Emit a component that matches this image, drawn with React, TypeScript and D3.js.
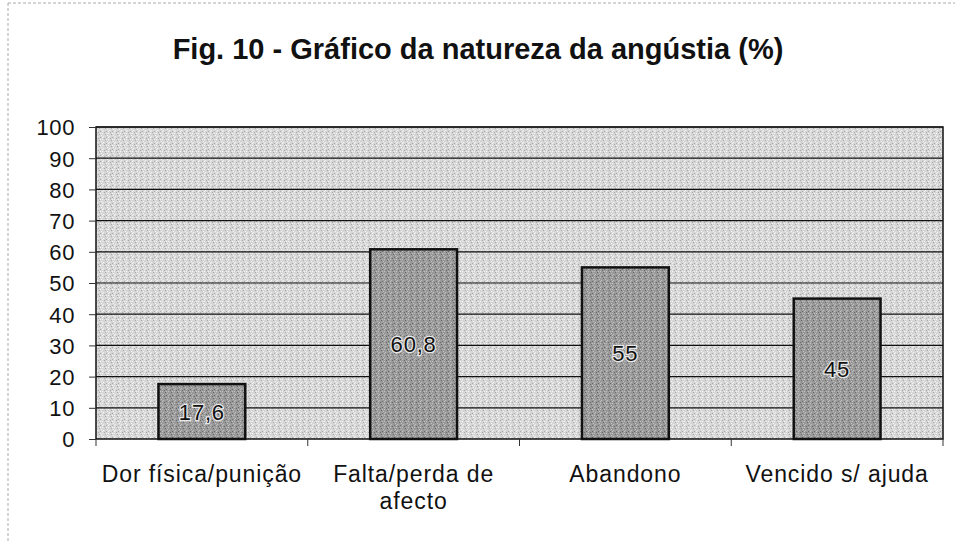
import React, { useEffect, useRef } from 'react';
import * as d3 from 'd3';

const categories = ['Dor física/punição', 'Falta/perda de\nafecto', 'Abandono', 'Vencido s/ ajuda'];
const values = [17.6, 60.8, 55, 45];
const valueLabels = ['17,6', '60,8', '55', '45'];
const yTicks = [0, 10, 20, 30, 40, 50, 60, 70, 80, 90, 100];

const W = 955;
const H = 541;
const margin = { top: 127, right: 12, bottom: 102, left: 96 };

export default function App() {
  const svgRef = useRef<SVGSVGElement>(null);

  useEffect(() => {
    if (!svgRef.current) return;
    const svg = d3.select(svgRef.current);
    svg.selectAll('*').remove();
    const font = "'Liberation Sans', Arial, sans-serif";

    // grainy textures, like the scanned print
    const defs = svg.append('defs');
    const grain = (id: string, base: string, light: string, dark: string) => {
      const p = defs.append('pattern').attr('id', id).attr('width', 6).attr('height', 6)
        .attr('patternUnits', 'userSpaceOnUse');
      p.append('rect').attr('width', 6).attr('height', 6).attr('fill', base);
      const dots = [[0, 0, light], [3, 1, dark], [1, 3, light], [4, 4, dark], [5, 2, light], [2, 5, dark], [0, 4, light], [4, 0, light]];
      dots.forEach(([x, y, c]) => p.append('rect').attr('x', x).attr('y', y).attr('width', 1).attr('height', 1).attr('fill', c as string));
    };
    grain('bgGrain', '#d6d6d6', '#f4f4f4', '#a8a8a8');
    grain('barGrain', '#999', '#c0c0c0', '#6a6a6a');

    // faint frame of the scanned page
    svg.append('line').attr('x1', 8).attr('x2', W).attr('y1', 3).attr('y2', 3)
      .attr('stroke', '#aaa').attr('stroke-dasharray', '3,2');
    svg.append('line').attr('x1', 8).attr('x2', 8).attr('y1', 3).attr('y2', H)
      .attr('stroke', '#aaa').attr('stroke-dasharray', '3,2');

    svg.append('text').attr('x', 478).attr('y', 59).attr('text-anchor', 'middle')
      .attr('font-family', font).attr('font-weight', 'bold').attr('font-size', 29)
      .attr('fill', '#111')
      .text('Fig. 10 - Gráfico da natureza da angústia (%)');

    const iw = W - margin.left - margin.right;
    const ih = H - margin.top - margin.bottom;
    const g = svg.append('g').attr('transform', `translate(${margin.left},${margin.top})`);

    const x = d3.scaleBand<number>().domain(d3.range(categories.length)).range([0, iw]).paddingInner(0.59).paddingOuter(0.295);
    const band = d3.scaleBand<number>().domain(d3.range(categories.length)).range([0, iw]);
    const y = d3.scaleLinear().domain([0, 100]).range([ih, 0]);

    g.append('rect').attr('width', iw).attr('height', ih).attr('fill', 'url(#bgGrain)');

    g.selectAll('line.grid').data(yTicks.filter(t => t > 0)).enter().append('line')
      .attr('class', 'grid').attr('x1', 0).attr('x2', iw)
      .attr('y1', d => y(d)).attr('y2', d => y(d))
      .attr('stroke', '#111').attr('stroke-width', 1.2);

    g.append('rect').attr('width', iw).attr('height', ih).attr('fill', 'none')
      .attr('stroke', '#111').attr('stroke-width', 1.5);

    g.selectAll('rect.bar').data(values).enter().append('rect')
      .attr('class', 'bar')
      .attr('x', (_, i) => x(i)!)
      .attr('width', x.bandwidth())
      .attr('y', d => y(d))
      .attr('height', d => ih - y(d))
      .attr('fill', 'url(#barGrain)')
      .attr('stroke', '#111').attr('stroke-width', 2.5);

    g.selectAll('text.val').data(values).enter().append('text')
      .attr('class', 'val')
      .attr('x', (_, i) => x(i)! + x.bandwidth() / 2)
      .attr('y', d => (y(d) + ih) / 2 + 8)
      .attr('text-anchor', 'middle')
      .attr('font-family', font).attr('font-size', 22).attr('letter-spacing', 0.8)
      .attr('fill', '#111').attr('stroke', '#e8e8e8').attr('stroke-width', 2.5)
      .attr('paint-order', 'stroke')
      .text((_, i) => valueLabels[i]);

    // y axis
    const yAxis = d3.axisLeft(y).tickValues(yTicks).tickSize(7).tickPadding(14);
    const ya = g.append('g').call(yAxis);
    ya.select('.domain').remove();
    ya.selectAll('line').attr('stroke', '#333');
    ya.selectAll('text').attr('font-family', font).attr('font-size', 22).attr('letter-spacing', 0.6)
      .attr('fill', '#111').attr('dy', '0.36em');

    // x axis: ticks at category boundaries
    const bounds = d3.range(categories.length + 1).map(i => (i < categories.length ? band(i)! : iw));
    g.selectAll('line.xt').data(bounds).enter().append('line')
      .attr('class', 'xt').attr('x1', d => d).attr('x2', d => d)
      .attr('y1', ih).attr('y2', ih + 7).attr('stroke', '#333');

    categories.forEach((c, i) => {
      const cx = band(i)! + band.bandwidth() / 2;
      const t = g.append('text').attr('x', cx).attr('y', 482 - margin.top)
        .attr('text-anchor', 'middle').attr('font-family', font).attr('font-size', 23)
        .attr('letter-spacing', 0.9).attr('fill', '#111');
      c.split('\n').forEach((line, j) => {
        t.append('tspan').attr('x', cx).attr('dy', j === 0 ? 0 : 27).text(line);
      });
    });
  }, []);

  return (
    <svg ref={svgRef} width={W} height={H}
      style={{ position: 'fixed', top: 0, left: 0, background: '#fff', display: 'block' }} />
  );
}
